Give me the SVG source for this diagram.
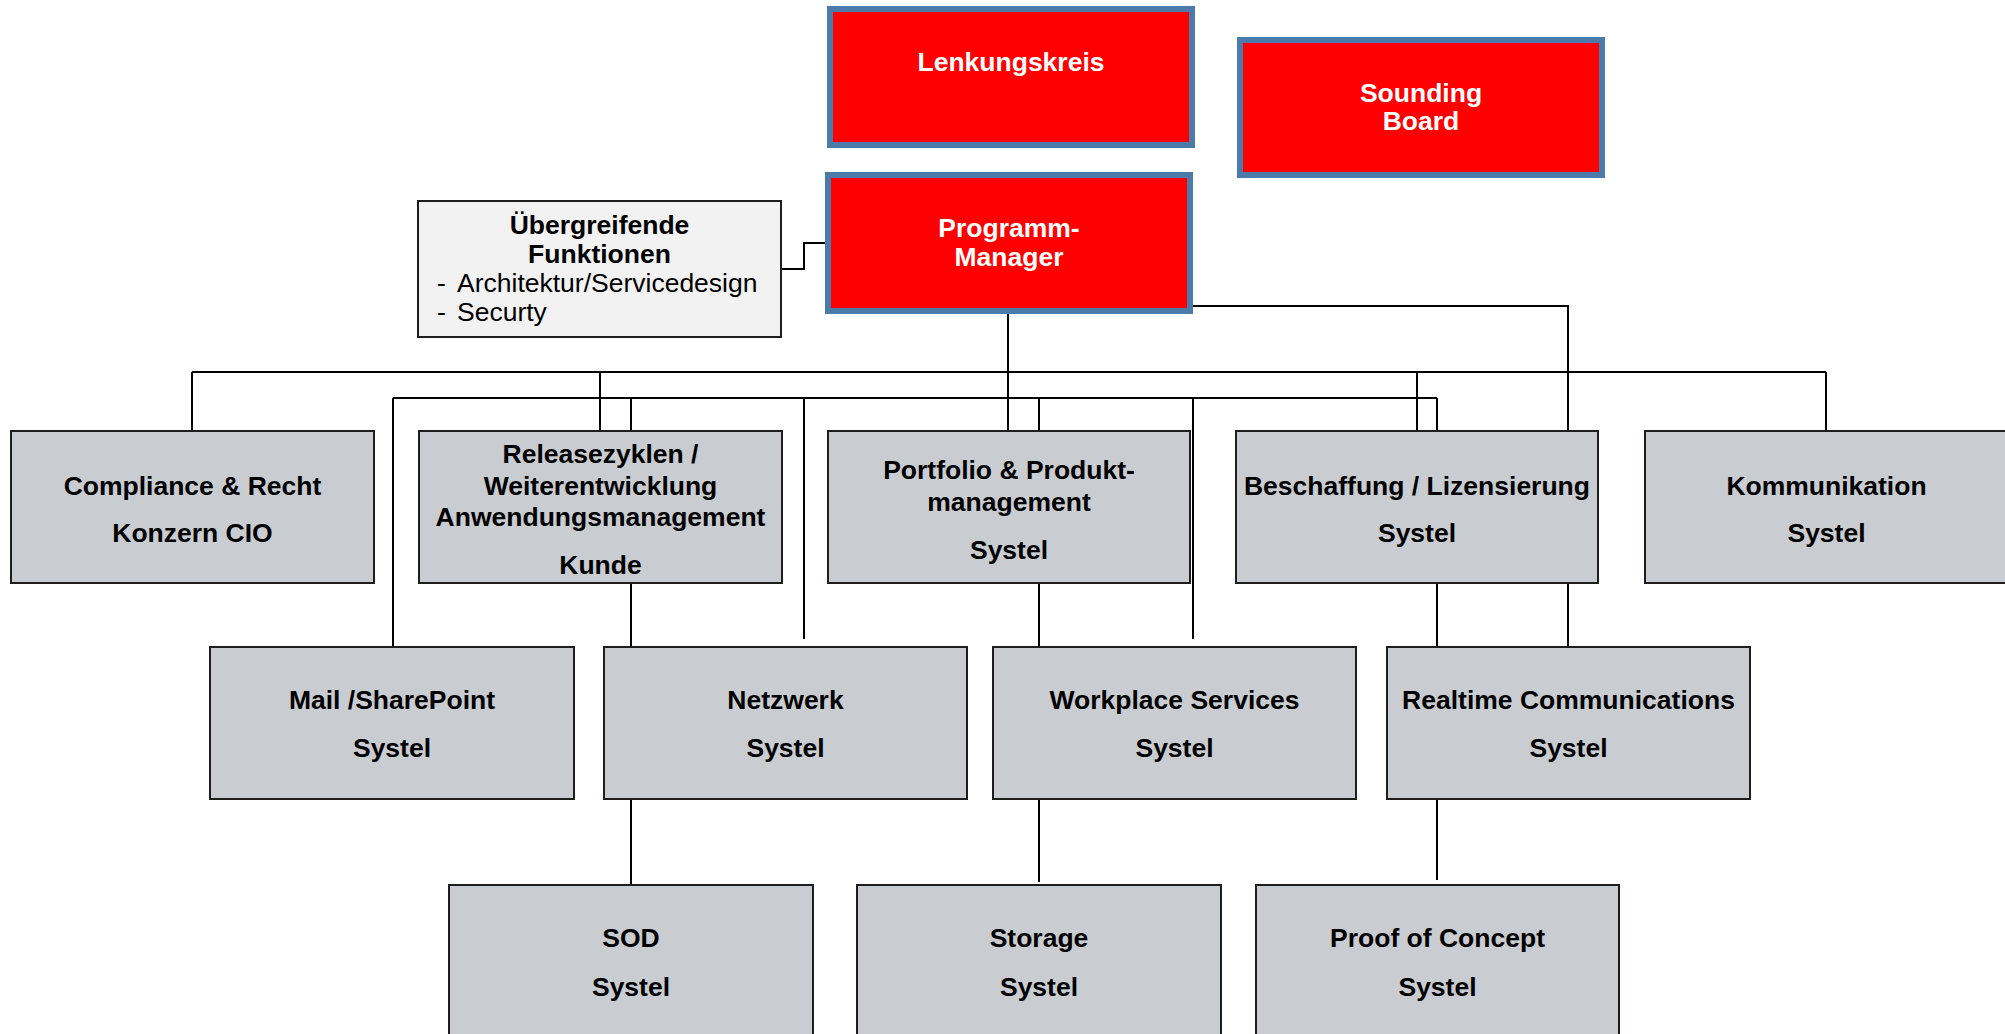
<svg xmlns="http://www.w3.org/2000/svg" width="2005" height="1034" viewBox="0 0 2005 1034">
<style>
.red rect{fill:#ff0000;stroke:#4a7bab;stroke-width:6}
.red text{fill:#ffffff;font-family:"Liberation Sans",Arial,sans-serif;font-weight:bold;font-size:26.5px;text-anchor:middle}
.gray rect{fill:#c9cdd1;stroke:#1e1e1e;stroke-width:2}
.gray text{fill:#000;font-family:"Liberation Sans",Arial,sans-serif;font-weight:bold;font-size:26.5px;text-anchor:middle}
.side rect{fill:#f2f2f2;stroke:#1e1e1e;stroke-width:2}
.side text{fill:#000;font-family:"Liberation Sans",Arial,sans-serif;font-size:26.5px}
.side .t{font-weight:bold;text-anchor:middle}
#connectors path{fill:none;stroke:#000;stroke-width:2}
</style>
<rect width="2005" height="1034" fill="#ffffff"/>
<g id="connectors">
<path d="M781,269 H804 V243 H825"/>
<path d="M1008,314 V431"/>
<path d="M192,372 H1826"/>
<path d="M192,372 V431"/>
<path d="M600,372 V431"/>
<path d="M1417,372 V431"/>
<path d="M1826,372 V431"/>
<path d="M393,398 H1437"/>
<path d="M393,398 V647"/>
<path d="M631,398 V431 M631,583 V647"/>
<path d="M804,398 V639"/>
<path d="M1039,398 V431 M1039,583 V647"/>
<path d="M1193,398 V639"/>
<path d="M1437,398 V431 M1437,583 V647"/>
<path d="M1193,306 H1568 V431 M1568,583 V647"/>
<path d="M631,799 V885"/>
<path d="M1039,799 V882"/>
<path d="M1437,799 V880"/>
</g>
<g id="lenkungskreis" class="red">
<rect x="830" y="9" width="362" height="136"/>
<text x="1011" y="71">Lenkungskreis</text>
</g>
<g id="sounding-board" class="red">
<rect x="1240" y="40" width="362" height="135"/>
<text x="1421" y="102">Sounding</text>
<text x="1421" y="130">Board</text>
</g>
<g id="programm-manager" class="red">
<rect x="828" y="175" width="362" height="136"/>
<text x="1009" y="237">Programm-</text>
<text x="1009" y="266">Manager</text>
</g>
<g id="uebergreifende-funktionen" class="side">
<rect x="418" y="201" width="363" height="136"/>
<text class="t" x="599.5" y="234">Übergreifende</text>
<text class="t" x="599.5" y="263">Funktionen</text>
<text x="437" y="292">- <tspan x="457">Architektur/Servicedesign</tspan></text>
<text x="437" y="321">- <tspan x="457">Securty</tspan></text>
</g>
<g id="compliance" class="gray">
<rect x="11" y="431" width="363" height="152"/>
<text x="192.5" y="495">Compliance &amp; Recht</text>
<text x="192.5" y="542">Konzern CIO</text>
</g>
<g id="releasezyklen" class="gray">
<rect x="419" y="431" width="363" height="152"/>
<text x="600.5" y="463">Releasezyklen /</text>
<text x="600.5" y="495">Weiterentwicklung</text>
<text x="600.5" y="526">Anwendungsmanagement</text>
<text x="600.5" y="574">Kunde</text>
</g>
<g id="portfolio" class="gray">
<rect x="828" y="431" width="362" height="152"/>
<text x="1009" y="479">Portfolio &amp; Produkt-</text>
<text x="1009" y="511">management</text>
<text x="1009" y="559">Systel</text>
</g>
<g id="beschaffung" class="gray">
<rect x="1236" y="431" width="362" height="152"/>
<text x="1417" y="495">Beschaffung / Lizensierung</text>
<text x="1417" y="542">Systel</text>
</g>
<g id="kommunikation" class="gray">
<rect x="1645" y="431" width="363" height="152"/>
<text x="1826.5" y="495">Kommunikation</text>
<text x="1826.5" y="542">Systel</text>
</g>
<g id="mail-sharepoint" class="gray">
<rect x="210" y="647" width="364" height="152"/>
<text x="392" y="709">Mail /SharePoint</text>
<text x="392" y="757">Systel</text>
</g>
<g id="netzwerk" class="gray">
<rect x="604" y="647" width="363" height="152"/>
<text x="785.5" y="709">Netzwerk</text>
<text x="785.5" y="757">Systel</text>
</g>
<g id="workplace-services" class="gray">
<rect x="993" y="647" width="363" height="152"/>
<text x="1174.5" y="709">Workplace Services</text>
<text x="1174.5" y="757">Systel</text>
</g>
<g id="realtime-communications" class="gray">
<rect x="1387" y="647" width="363" height="152"/>
<text x="1568.5" y="709">Realtime Communications</text>
<text x="1568.5" y="757">Systel</text>
</g>
<g id="sod" class="gray">
<rect x="449" y="885" width="364" height="152"/>
<text x="631" y="947">SOD</text>
<text x="631" y="996">Systel</text>
</g>
<g id="storage" class="gray">
<rect x="857" y="885" width="364" height="152"/>
<text x="1039" y="947">Storage</text>
<text x="1039" y="996">Systel</text>
</g>
<g id="proof-of-concept" class="gray">
<rect x="1256" y="885" width="363" height="152"/>
<text x="1437.5" y="947">Proof of Concept</text>
<text x="1437.5" y="996">Systel</text>
</g>
</svg>
